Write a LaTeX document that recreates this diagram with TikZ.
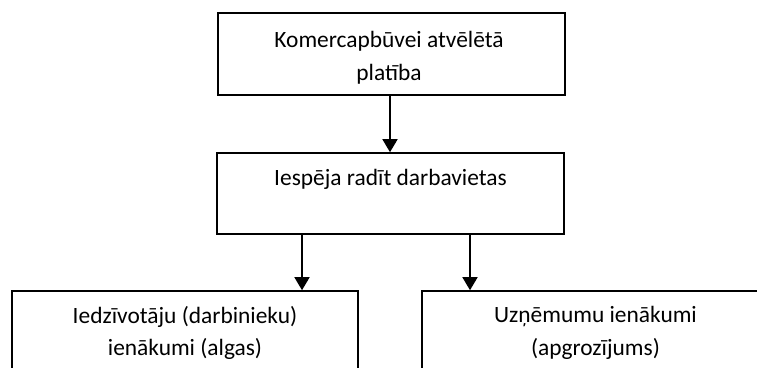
\documentclass[tikz,border=0pt]{standalone}
\usepackage{fontspec}
\setmainfont{Carlito}
\usetikzlibrary{arrows.meta}
\tikzset{
  box/.style={draw=black, line width=1.6pt, fill=none, inner sep=0pt, minimum width=347pt, minimum height=82pt},
  lbl/.style={inner sep=0pt, anchor=base, font=\fontsize{23.4}{33}\selectfont},
  arr/.style={line width=1.6pt, -{Triangle[length=13pt,width=15pt]}}
}
\begin{document}
\begin{tikzpicture}[x=1pt,y=-1pt]
\fill[white] (0,0) rectangle (757,367);
\useasboundingbox (0,0) rectangle (757,367);
\begin{scope}
\clip (0,0) rectangle (757,367);
\node[box] (b1) at (391.5,54) {};
\node[box, minimum height=81pt] (b2) at (390.5,193.5) {};
\node[box, minimum width=346pt] (b3) at (185,332) {};
\node[box] (b4) at (595.5,332) {};
\node[lbl] (t1a) at (389,47) {Komercapbūvei atvēlētā};
\node[lbl] (t1b) at (389,80) {platība};
\node[lbl] (t2) at (390.5,185) {Iespēja radīt darbavietas};
\node[lbl] (t3a) at (185,323) {Iedzīvotāju (darbinieku)};
\node[lbl] (t3b) at (185,355) {ienākumi (algas)};
\node[lbl] (t4a) at (595.5,322) {Uzņēmumu ienākumi};
\node[lbl] (t4b) at (595.5,355) {(apgrozījums)};
\coordinate (x0) at (390,0);
\coordinate (x1) at (302,0);
\coordinate (x2) at (470,0);
\draw[arr] (b1.south -| x0) -- (b2.north -| x0);
\draw[arr] (b2.south -| x1) -- (b3.north -| x1);
\draw[arr] (b2.south -| x2) -- (b4.north -| x2);
\end{scope}
\end{tikzpicture}
\end{document}
